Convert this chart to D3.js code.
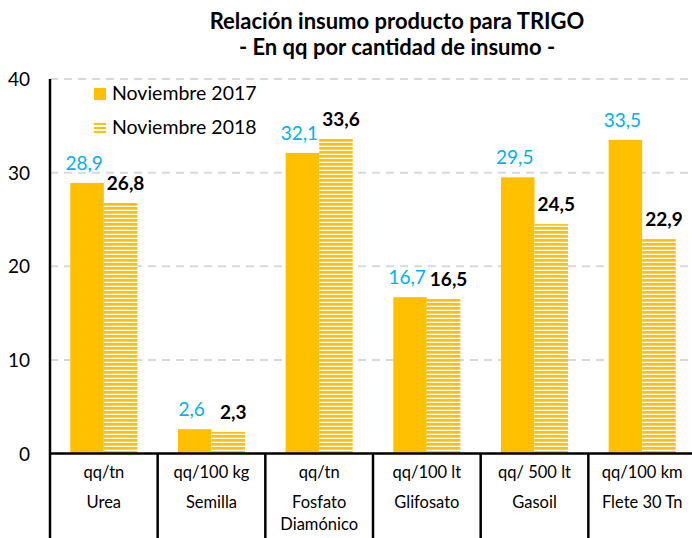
<!DOCTYPE html>
<html>
<head>
<meta charset="utf-8">
<script src="https://cdnjs.cloudflare.com/ajax/libs/d3/7.8.5/d3.min.js"></script>
<style>
  body { margin: 0; background: #fff; }
  svg text { font-family: Lato, "Open Sans", sans-serif; }
</style>
</head>
<body>
<div id="chart"></div>
<script>
// data
var categories = ["Urea", "Semilla", "Fosfato Diamónico", "Glifosato", "Gasoil", "Flete 30 Tn"];
var units = ["qq/tn", "qq/100 kg", "qq/tn", "qq/100 lt", "qq/ 500 lt", "qq/100 km"];
var nameLines = [["Urea"], ["Semilla"], ["Fosfato", "Diamónico"], ["Glifosato"], ["Gasoil"], ["Flete 30 Tn"]];
var series = ["Noviembre 2017", "Noviembre 2018"];
var values2017 = [28.9, 2.6, 32.1, 16.7, 29.5, 33.5];
var values2018 = [26.8, 2.3, 33.6, 16.5, 24.5, 22.9];
var yTicks = [0, 10, 20, 30, 40];

var svgWidth = 692;
var svgHeight = 538;

var margin = { top: 79, right: -4, bottom: 84.5, left: 50 };
var width = svgWidth - margin.left - margin.right;
var height = svgHeight - margin.top - margin.bottom;

var yellow = "#FFC000";
var blue = "#00B0F0";

var svg = d3.select("#chart")
  .append("svg")
  .attr("width", svgWidth)
  .attr("height", svgHeight);

// hatch for 2018 bars
var defs = svg.append("defs");
var pat = defs.append("pattern")
  .attr("id", "hatch")
  .attr("patternUnits", "userSpaceOnUse")
  .attr("width", 8)
  .attr("height", 4);
pat.append("rect").attr("width", 8).attr("height", 4).attr("fill", "#fff");
pat.append("rect").attr("width", 8).attr("height", 2.7).attr("fill", yellow);

var chartGroup = svg.append("g")
  .attr("transform", `translate(${margin.left}, ${margin.top})`);

// title
svg.append("text")
  .attr("x", 397).attr("y", 29)
  .attr("text-anchor", "middle")
  .style("font-weight", "bold").style("font-size", "22px")
  .text("Relación insumo producto para TRIGO");
svg.append("text")
  .attr("x", 397).attr("y", 55)
  .attr("text-anchor", "middle")
  .style("font-weight", "bold").style("font-size", "22px")
  .text("- En qq por cantidad de insumo -");

// scales
var x0 = d3.scaleBand().domain(categories).range([0, width]);
var groupW = x0.bandwidth() * 0.623;
var x1 = d3.scaleBand().domain(series)
  .range([(x0.bandwidth() - groupW) / 2, (x0.bandwidth() + groupW) / 2]);
var y = d3.scaleLinear().domain([0, 40]).range([height, 0]);

// gridlines
chartGroup.selectAll(".grid")
  .data(yTicks.filter(d => d > 0))
  .enter()
  .append("line")
  .attr("x1", 0).attr("x2", svgWidth - margin.left)
  .attr("y1", d => y(d)).attr("y2", d => y(d))
  .attr("stroke", "#d9d9d9")
  .attr("stroke-width", 2)
  .attr("stroke-dasharray", "8,6");

// y axis
var leftAxis = d3.axisLeft(y).tickValues(yTicks).tickSize(0).tickPadding(20);
var yAxis = chartGroup.append("g").call(leftAxis);
yAxis.select(".domain").remove();
yAxis.selectAll("text")
  .style("font-size", "19px")
  .attr("fill", "#000")
  .attr("dy", "0.35em");

// bars
var rows = categories.map((c, i) => ({ cat: c, v: [values2017[i], values2018[i]] }));

var groups = chartGroup.selectAll(".cat")
  .data(rows)
  .enter()
  .append("g")
  .attr("transform", d => `translate(${x0(d.cat)},0)`);

groups.append("rect")
  .attr("x", x1(series[0]))
  .attr("y", d => y(d.v[0]))
  .attr("width", x1.bandwidth())
  .attr("height", d => height - y(d.v[0]))
  .attr("fill", yellow);

groups.append("rect")
  .attr("x", x1(series[1]))
  .attr("y", d => y(d.v[1]))
  .attr("width", x1.bandwidth())
  .attr("height", d => height - y(d.v[1]))
  .attr("fill", "url(#hatch)");

var fmt = v => d3.format(".1f")(v).replace(".", ",");

groups.append("text")
  .attr("x", x1(series[0]) + x1.bandwidth() / 2 - 3)
  .attr("y", d => y(d.v[0]) - 13)
  .attr("text-anchor", "middle")
  .attr("fill", blue)
  .style("font-size", "19px")
  .text(d => fmt(d.v[0]));

groups.append("text")
  .attr("x", x1(series[1]) + x1.bandwidth() / 2 + 5)
  .attr("y", d => y(d.v[1]) - 13)
  .attr("text-anchor", "middle")
  .attr("fill", "#000")
  .style("font-size", "19px")
  .style("font-weight", "bold")
  .text(d => fmt(d.v[1]));

// x axis: baseline, dividers, two-row labels
chartGroup.append("line")
  .attr("x1", 0).attr("x2", svgWidth - margin.left)
  .attr("y1", height).attr("y2", height)
  .attr("stroke", "#000").attr("stroke-width", 2.5);

chartGroup.append("line")
  .attr("x1", 0).attr("x2", 0)
  .attr("y1", 0).attr("y2", svgHeight - margin.top)
  .attr("stroke", "#000").attr("stroke-width", 2.5);

chartGroup.selectAll(".divider")
  .data(categories.slice(1))
  .enter()
  .append("line")
  .attr("x1", d => x0(d)).attr("x2", d => x0(d))
  .attr("y1", height).attr("y2", svgHeight - margin.top)
  .attr("stroke", "#000").attr("stroke-width", 2.5);

var xlabels = chartGroup.selectAll(".xlab")
  .data(categories)
  .enter()
  .append("text")
  .attr("text-anchor", "middle")
  .attr("transform", d => `translate(${x0(d) + x0.bandwidth() / 2},${height})`)
  .style("font-size", "16.5px")
  .attr("fill", "#000");

xlabels.append("tspan").attr("x", 0).attr("y", 24.5)
  .text((d, i) => units[i]);
xlabels.each(function(d, i) {
  var t = d3.select(this);
  nameLines[i].forEach((ln, j) => {
    t.append("tspan").attr("x", 0).attr("y", 54.5 + j * 22).text(ln);
  });
});

// legend
var legend = svg.append("g").attr("transform", "translate(94,88)");
legend.append("rect").attr("width", 12).attr("height", 12).attr("fill", yellow);
legend.append("text").attr("x", 18).attr("y", 12)
  .style("font-size", "19.5px").attr("fill", "#000").text(series[0]);
var leg2 = legend.append("g").attr("transform", "translate(0,34)");
[1, 5, 9].forEach(function(d) {
  leg2.append("rect").attr("y", d).attr("width", 12).attr("height", 2).attr("fill", yellow);
});
leg2.append("text").attr("x", 18).attr("y", 12)
  .style("font-size", "19.5px").attr("fill", "#000").text(series[1]);
</script>
</body>
</html>
